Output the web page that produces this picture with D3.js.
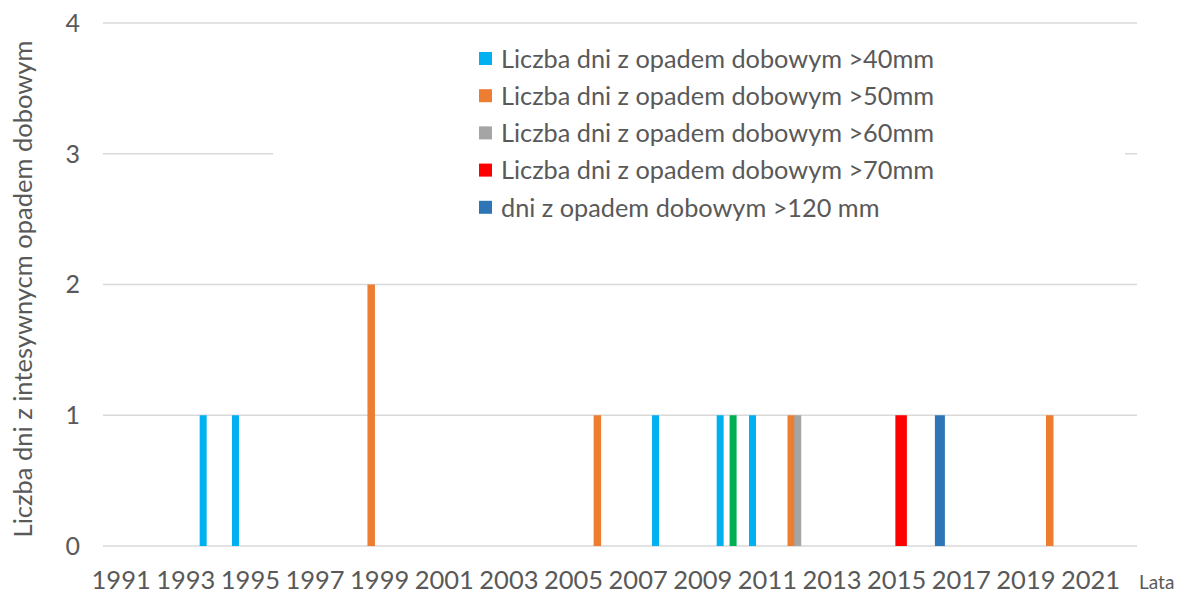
<!DOCTYPE html>
<html>
<head>
<meta charset="utf-8">
<script src="https://cdn.jsdelivr.net/npm/d3@7"></script>
<style>
    body { margin: 0; background: #fff; }
    text { font-family: Lato, "Open Sans", sans-serif; fill: #595959; }
</style>
</head>
<body>
<svg id="chart" width="1181" height="595"></svg>
<script>
// Categories: one per year, labelled every second year
const years = d3.range(1991, 2023);
const tickYears = years.filter((d, i) => i % 2 === 0);
const yTicks = [0, 1, 2, 3, 4];

// Series: [year, days] pairs (years with no days are omitted)
const over40 = [[1994, 1], [1995, 1], [2008, 1], [2010, 1], [2011, 1]];
const over50 = [[1999, 2], [2006, 1], [2012, 1], [2020, 1]];
const over60 = [[2012, 1]];
const over70 = [[2015, 1]];
const over120 = [[2016, 1]];
const unlabelled = [[2010, 1]]; // green bar, not in the legend

const seriesNames = [
    'Liczba dni z opadem dobowym >40mm',
    'Liczba dni z opadem dobowym >50mm',
    'Liczba dni z opadem dobowym >60mm',
    'Liczba dni z opadem dobowym >70mm',
    'dni z opadem dobowym >120 mm'
];

/**
 * Visual configs.
 */
const colors = ['#00b0f0', '#ed7d31', '#a5a5a5', '#ff0000', '#2e75b6', '#00b050'],
    barWidths = [7, 7.5, 7, 11.5, 10, 7],
    slots = [0, 1, 2, 3, 4, 2]; // position of each series inside a year's cluster

const series = [over40, over50, over60, over70, over120, unlabelled].map((values, i) => ({
    values: values,
    color: colors[i],
    width: barWidths[i],
    slot: slots[i]
}));

const svg = d3.select('#chart');
const x = d3.scaleBand().domain(years).range([103, 1137]);
const slot = d3.scaleBand().domain(d3.range(5)).range([0, x.bandwidth()]);
const y = d3.scaleLinear().domain([0, 4]).range([546, 23]);

// Gridlines
svg.append('g').attr('class', 'grid')
    .selectAll('line').data(yTicks).join('line')
    .attr('x1', x.range()[0]).attr('x2', x.range()[1])
    .attr('y1', d => y(d)).attr('y2', d => y(d))
    .attr('stroke', '#d9d9d9').attr('stroke-width', 1.5);

// Y tick labels
svg.append('g').selectAll('text').data(yTicks).join('text')
    .attr('x', 80).attr('y', d => y(d))
    .attr('dy', '0.35em').attr('text-anchor', 'end')
    .style('font-size', '25px')
    .text(d => d);

// X tick labels
svg.append('g').selectAll('text').data(tickYears).join('text')
    .attr('x', d => x(d) + x.bandwidth() / 2 + 2)
    .attr('y', 589).attr('text-anchor', 'middle')
    .style('font-size', '25.5px')
    .text(d => d);

svg.append('text').attr('x', 1139).attr('y', 589)
    .style('font-size', '19px').text('Lata');

// Y axis title
svg.append('text')
    .attr('transform', 'translate(32,289) rotate(-90)')
    .attr('text-anchor', 'middle')
    .style('font-size', '25.5px')
    .text('Liczba dni z intesywnycm opadem dobowym');

// Bars
const bars = svg.append('g').attr('class', 'bars');
series.forEach(s => {
    bars.selectAll(null).data(s.values).join('rect')
        .attr('x', d => x(d[0]) + slot(s.slot) + slot.bandwidth() / 2 - s.width / 2)
        .attr('width', s.width)
        .attr('y', d => y(d[1]))
        .attr('height', d => y(0) - y(d[1]))
        .attr('fill', s.color);
});

// Legend (opaque box hides the gridline behind it)
const legend = svg.append('g').attr('class', 'legend');
legend.append('rect')
    .attr('x', 273).attr('y', 36).attr('width', 852).attr('height', 192)
    .attr('fill', '#fff');
const items = legend.selectAll('.item').data(seriesNames).join('g')
    .attr('class', 'item')
    .attr('transform', (d, i) => 'translate(479,' + (59 + i * 37.2) + ')');
items.append('rect')
    .attr('x', 0).attr('y', -7).attr('width', 13).attr('height', 13)
    .attr('fill', (d, i) => colors[i]);
items.append('text')
    .attr('x', 22).attr('dy', '0.35em')
    .style('font-size', '25.3px')
    .text(d => d);
</script>
</body>
</html>
